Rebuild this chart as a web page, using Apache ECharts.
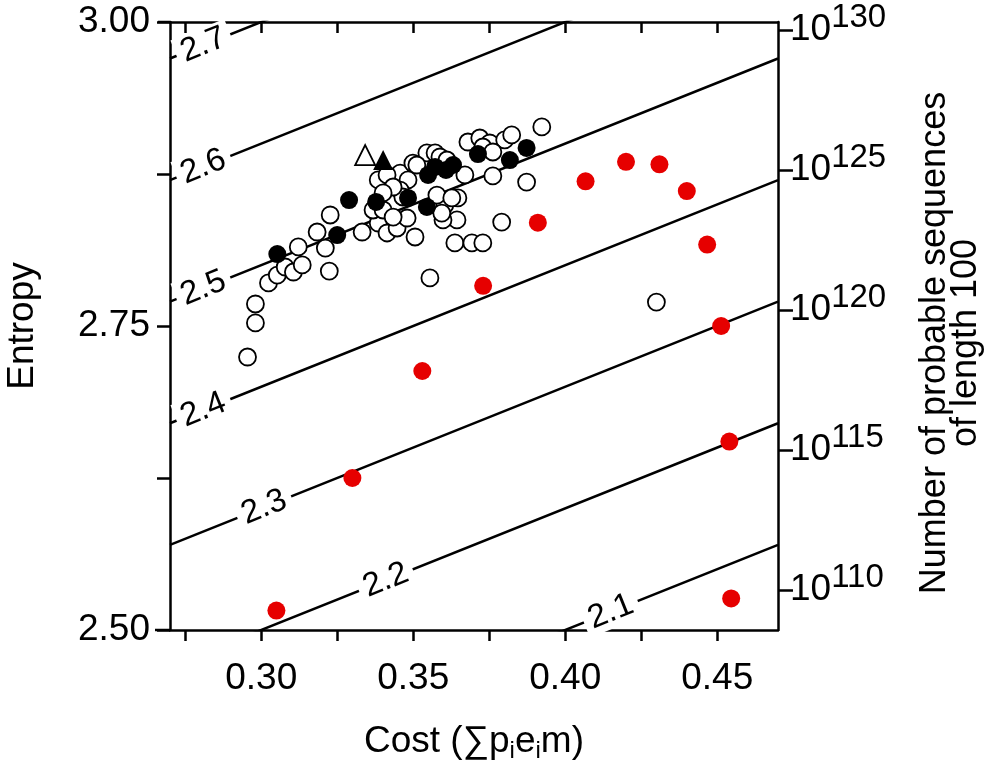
<!DOCTYPE html>
<html>
<head>
<meta charset="utf-8">
<script src="https://cdn.jsdelivr.net/npm/echarts@6/dist/echarts.min.js"></script>
<style>html,body{margin:0;padding:0;background:#fff}#c{width:990px;height:763px}</style>
</head>
<body>
<div id="c"></div>
<script>
// ---- data ----
const openCost = [0.2955,0.2981,0.2981,0.3024,0.3053,0.3079,0.3106,0.3135,0.3122,0.3184,0.3211,0.3224,0.3227,0.3332,0.3385,0.3414,0.3447,0.3480,0.3506,0.3555,0.3385,0.3457,0.3483,0.3457,0.3368,0.3401,0.3434,0.3499,0.3532,0.3545,0.3466,0.3680,0.3719,0.3752,0.3801,0.3824,0.3923,0.3729,0.3762,0.3873,0.3762,0.3670,0.3647,0.3604,0.3644,0.3598,0.3791,0.3637,0.3693,0.3729,0.3414,0.3434,0.3401,0.3572,0.3588,0.3611,0.3512,0.3594,0.3578,0.3627,0.4300];
const openEntropy = [2.7245,2.7525,2.7681,2.7854,2.7919,2.7985,2.7944,2.8002,2.8150,2.8273,2.8141,2.7952,2.8413,2.8273,2.8347,2.8265,2.8306,2.8388,2.8232,2.7895,2.8701,2.8758,2.8701,2.8618,2.8454,2.8454,2.8396,2.8840,2.8840,2.8923,2.8561,2.9013,2.9046,2.9005,2.9030,2.9071,2.9137,2.8972,2.8931,2.8684,2.8734,2.8742,2.8553,2.8495,2.8372,2.8372,2.8355,2.8183,2.8183,2.8183,2.8742,2.8643,2.8594,2.8923,2.8890,2.8865,2.8824,2.8429,2.8577,2.8553,2.7697];
const filledCost = [0.3053,0.3289,0.3250,0.3378,0.3483,0.3545,0.3549,0.3572,0.3608,0.3631,0.3713,0.3818,0.3873];
const filledEntropy = [2.8092,2.8536,2.8248,2.8520,2.8553,2.8479,2.8742,2.8808,2.8783,2.8824,2.8914,2.8865,2.8964];
const redCost = [0.305,0.330,0.353,0.373,0.391,0.4067,0.420,0.431,0.440,0.4467,0.4513,0.454,0.4546];
const redEntropy = [2.516,2.625,2.713,2.783,2.835,2.869,2.885,2.883,2.861,2.817,2.750,2.655,2.526];
const openTriangle = [[0.3342, 2.8906]];
const filledTriangle = [[0.3401, 2.8865]];
const contourLevels = [2.1, 2.2, 2.3, 2.4, 2.5, 2.6, 2.7];
const contourLabelCost = [0.415, 0.341, 0.301, 0.281, 0.281, 0.281, 0.281];
const xTicks = [0.275, 0.30, 0.325, 0.35, 0.375, 0.40, 0.425, 0.45];
const xLabels = [0.30, 0.35, 0.40, 0.45];
const yTicks = [2.5, 2.625, 2.75, 2.875, 3.0];
const yLabels = [2.50, 2.75, 3.00];
const rightExponents = [110, 115, 120, 125, 130];
const X_MIN = 0.27, X_MAX = 0.47, Y_MIN = 2.5, Y_MAX = 3.0;
const LOG10_PER_ENTROPY = 100 * Math.LOG10E; // sequences of length 100, entropy in nats

// ---- chart ----
const FONT = '"Liberation Sans", Arial, Helvetica, sans-serif';
const chart = echarts.init(document.getElementById('c'), null, {renderer: 'canvas'});
const zip = (a, b) => a.map((v, i) => [v, b[i]]);

const series = [];
contourLevels.forEach(c => {
  series.push({
    type: 'line', xAxisIndex: 0, yAxisIndex: 0, silent: true, clip: true,
    showSymbol: false, symbol: 'none', z: 2,
    lineStyle: {color: '#000', width: 2.5},
    data: [[X_MIN, X_MIN + c], [X_MAX, X_MAX + c]]
  });
});
series.push({
  type: 'scatter', silent: true, z: 3, symbolSize: 1,
  itemStyle: {color: 'rgba(0,0,0,0)', opacity: 1},
  label: {
    show: true, position: 'inside', rotate: 21.8,
    formatter: p => p.value[2].toFixed(1),
    fontFamily: FONT, fontSize: 33, color: '#000', opacity: 1,
    backgroundColor: '#fff', padding: [0, 6, 0, 6]
  },
  data: contourLevels.map((c, i) => [contourLabelCost[i], contourLabelCost[i] + c, c])
});
series.push({
  type: 'scatter', z: 4, symbol: 'circle', symbolSize: 17,
  itemStyle: {color: '#fff', borderColor: '#000', borderWidth: 1.8, opacity: 1},
  data: zip(openCost, openEntropy)
});
series.push({
  type: 'scatter', z: 5, symbol: 'circle', symbolSize: 18,
  itemStyle: {color: '#000', opacity: 1},
  data: zip(filledCost, filledEntropy)
});
series.push({
  type: 'scatter', z: 5, symbol: 'circle', symbolSize: 18,
  itemStyle: {color: '#e60000', opacity: 1},
  data: zip(redCost, redEntropy)
});
series.push({
  type: 'scatter', z: 5, symbol: 'triangle', symbolSize: 20,
  itemStyle: {color: '#fff', borderColor: '#000', borderWidth: 1.8, opacity: 1},
  data: openTriangle
});
series.push({
  type: 'scatter', z: 5, symbol: 'triangle', symbolSize: 20,
  itemStyle: {color: '#000', opacity: 1},
  data: filledTriangle
});

const axisLine = {show: true, onZero: false, lineStyle: {color: '#000', width: 2.5}};

chart.setOption({
  animation: false,
  backgroundColor: '#fff',
  grid: {left: 170, top: 22, right: 212, bottom: 133, containLabel: false, outerBoundsMode: 'none'},
  xAxis: [{
    type: 'value', position: 'bottom', min: X_MIN, max: X_MAX,
    axisLine: axisLine,
    axisTick: {show: true, inside: false, length: 11, lineStyle: {color: '#000', width: 2.5}, customValues: xTicks},
    axisLabel: {show: true, customValues: xLabels, formatter: v => v.toFixed(2), margin: 30,
      fontFamily: FONT, fontSize: 37, color: '#000'},
    splitLine: {show: false},
    name: '{n|Cost (∑p}{s|i}{n|e}{s|i}{n|m)}',
    nameLocation: 'middle', nameGap: 91,
    nameTextStyle: {fontFamily: FONT, color: '#000', rich: {
      n: {fontFamily: FONT, fontSize: 37, color: '#000'},
      s: {fontFamily: FONT, fontSize: 24, color: '#000', padding: [18, 0, 0, 0]}
    }}
  }, {
    type: 'value', position: 'top', min: X_MIN, max: X_MAX,
    axisLine: axisLine,
    axisTick: {show: true, inside: true, length: 11, lineStyle: {color: '#000', width: 2.5}, customValues: xTicks},
    axisLabel: {show: false},
    splitLine: {show: false}
  }],
  yAxis: [{
    type: 'value', position: 'left', min: Y_MIN, max: Y_MAX,
    axisLine: axisLine,
    axisTick: {show: true, inside: false, length: 13, lineStyle: {color: '#000', width: 2.5}, customValues: yTicks},
    axisLabel: {show: true, customValues: yLabels, formatter: v => v.toFixed(2), margin: 20,
      fontFamily: FONT, fontSize: 37, color: '#000'},
    splitLine: {show: false},
    name: 'Entropy', nameLocation: 'middle', nameGap: 129, nameRotate: 90,
    nameTextStyle: {fontFamily: FONT, fontSize: 37, color: '#000'}
  }, {
    type: 'value', position: 'right',
    min: Y_MIN * LOG10_PER_ENTROPY, max: Y_MAX * LOG10_PER_ENTROPY,
    axisLine: axisLine,
    axisTick: {show: true, inside: false, length: 15, lineStyle: {color: '#000', width: 2.5}, customValues: rightExponents},
    axisLabel: {show: true, customValues: rightExponents, margin: 12,
      formatter: v => '{b|10}{s|' + Math.round(v) + '}',
      rich: {
        b: {fontFamily: FONT, fontSize: 37, color: '#000'},
        s: {fontFamily: FONT, fontSize: 33, color: '#000', padding: [0, 0, 24, 0]}
      }},
    splitLine: {show: false},
    name: 'Number of probable sequences\nof length 100', nameLocation: 'middle', nameGap: 142, nameRotate: 90,
    nameTextStyle: {fontFamily: FONT, fontSize: 36, color: '#000', lineHeight: 31, align: 'center', padding: [0, 34, 0, 0]}
  }],
  graphic: [
    {type: 'line', shape: {x1: 155, y1: 630, x2: 170, y2: 630}, style: {stroke: '#000', lineWidth: 2.5}},
    {type: 'line', shape: {x1: 158, y1: 22, x2: 170, y2: 22}, style: {stroke: '#000', lineWidth: 2.5}}
  ],
  series: series
});
</script>
</body>
</html>
